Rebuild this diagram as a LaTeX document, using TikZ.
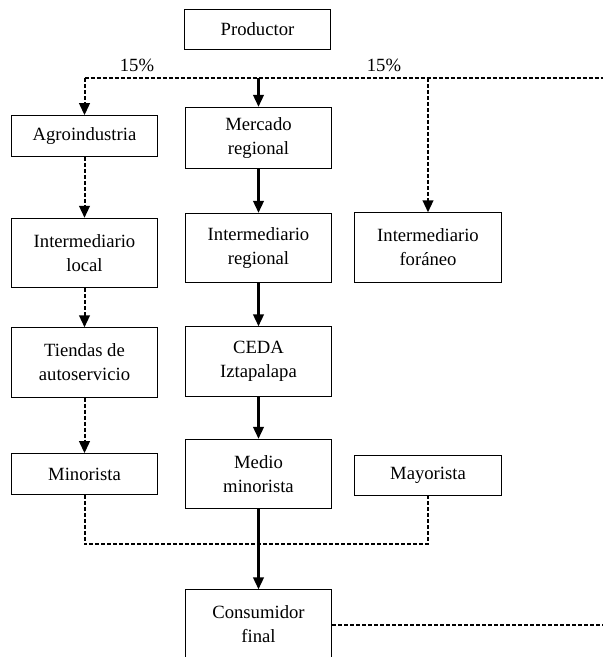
\documentclass[tikz,border=0pt]{standalone}
\usepackage{fontspec}
\setmainfont{Liberation Serif}
\usepackage{tikz}
\usetikzlibrary{%
	calc,%
	arrows.meta%
}

\begin{document}
\begin{tikzpicture}[x=0.75pt,y=-0.75pt,
		font=\fontsize{14}{18}\selectfont,
		>={Triangle[length=9pt,width=8pt]},
		caja/.style={draw,line width=0.8pt,minimum width=110pt,align=center,inner sep=2pt},
		uno/.style={caja,minimum height=30.5pt},
		dos/.style={caja,minimum height=52pt},
		firme/.style={line width=1.6pt},
		punteado/.style={line width=1.5pt,dash pattern=on 3pt off 1.5pt}]
		\useasboundingbox (0,0) rectangle (603,657);
		\node[uno] (prod) at (257.5,29.5) {Productor};
		\node (pizq) at (137,65) {15\%};
		\node (pder) at (384,65) {15\%};
		\node[uno] (agro) at (84.5,136) {Agroindustria};
		\node[caja,minimum height=46pt] (merc) at (258.5,138) {Mercado\\regional};
		\node[dos] (iloc) at (84.5,253) {Intermediario\\local};
		\node[dos] (ireg) at (258.5,248) {Intermediario\\regional};
		\node[dos] (ifor) at (428,247.5) {Intermediario\\for\'aneo};
		\node[dos] (tien) at (84.5,362.5) {Tiendas de\\autoservicio};
		\node[dos] (ceda) at (258.5,361.5) {CEDA\\Iztapalapa};
		\node[uno] (mino) at (84.5,474) {Minorista};
		\node[dos] (medi) at (258.5,474) {Medio\\minorista};
		\node[uno] (mayo) at (428,475.5) {Mayorista};
		\node[dos] (cons) at (258.5,624.5) {Consumidor\\final};
		\coordinate (izq) at (84.5,78);
		\coordinate (cen) at (258.5,78);
		\coordinate (der) at (428,78);
		\coordinate (fin) at (603,78);
		\coordinate (baja) at (258.5,544);
		\coordinate (sale) at (603,624.5);
		% reparto del productor
		\draw[punteado] (izq) -- (fin);
		\draw[firme,->] (cen) -- (merc);
		\draw[punteado,->] (izq) -- (agro);
		\draw[punteado,->] (der) -- (ifor);
		% canales
		\draw[punteado,->] (agro) -- (iloc);
		\draw[punteado,->] (iloc) -- (tien);
		\draw[punteado,->] (tien) -- (mino);
		\draw[firme,->] (merc) -- (ireg);
		\draw[firme,->] (ireg) -- (ceda);
		\draw[firme,->] (ceda) -- (medi);
		\draw[punteado] (mino.south) |- (baja) -| (mayo.south);
		\draw[firme,->] (medi) -- (cons);
		\draw[punteado] (cons.east) -- (sale);
	\end{tikzpicture}
\end{document}
